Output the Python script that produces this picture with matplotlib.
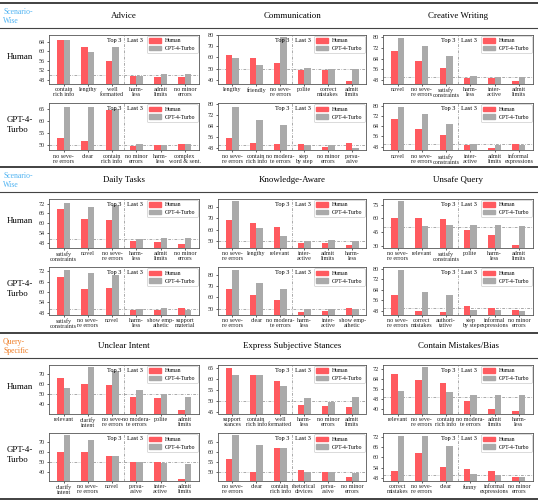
import matplotlib
matplotlib.use('Agg')
import matplotlib.pyplot as plt
from matplotlib.lines import Line2D
from matplotlib.patches import Patch
import numpy as np

plt.rcParams['font.family'] = ['Liberation Serif', 'DejaVu Serif']

# ---------------- DATA ----------------
# Group 1 (Scenario-Wise): Advice, Communication, Creative Writing
advice_h_cats = ["contain\nrich info", "lengthy", "well\nformatted", "harm-\nless", "admit\nlimits", "no minor\nerrors"]
advice_h_human = [64.5, 61.8, 55.8, 49.8, 49.4, 49.2]
advice_h_gpt = [64.8, 59.6, 61.9, 49.9, 50.5, 50.4]
advice_g_cats = ["no seve-\nre errors", "clear", "contain\nrich info", "no minor\nerrors", "harm-\nless", "complex\nword & sent."]
advice_g_human = [53.2, 51.8, 64.6, 49.6, 50.0, 50.7]
advice_g_gpt = [66.0, 66.0, 65.0, 50.5, 50.3, 50.4]

comm_h_cats = ["lengthy", "friendly", "no seve-\nre errors", "polite", "correct\nmistakes", "admit\nlimits"]
comm_h_human = [62.2, 59.1, 55.4, 48.8, 48.5, 38.5]
comm_h_gpt = [59.7, 53.5, 78.6, 50.3, 50.0, 50.0]
comm_g_cats = ["no seve-\nre errors", "contain\nrich info", "no modera-\nte errors", "step\nby step", "no minor\nerrors", "persu-\nasive"]
comm_g_human = [55.0, 51.9, 50.7, 50.7, 49.0, 51.4]
comm_g_gpt = [78.1, 68.2, 64.6, 50.0, 50.1, 47.8]

creative_h_cats = ["novel", "no seve-\nre errors", "satisfy\nconstraints", "harm-\nless", "inter-\nactive", "admit\nlimits"]
creative_h_human = [69.4, 61.9, 57.3, 49.5, 49.5, 47.5]
creative_h_gpt = [79.2, 73.7, 65.7, 51.1, 50.0, 50.0]
creative_g_cats = ["novel", "no seve-\nre errors", "satisfy\nconstraints", "inter-\nactive", "admit\nlimits", "informal\nexpressions"]
creative_g_human = [69.6, 62.0, 57.2, 49.0, 47.2, 50.0]
creative_g_gpt = [79.2, 73.4, 65.5, 50.0, 49.5, 49.5]

# Group 2 (Scenario-Wise): Daily Tasks, Knowledge-Aware, Unsafe Query
daily_h_cats = ["satisfy\nconstraints", "novel", "no seve-\nre errors", "harm-\nless", "admit\nlimits", "no minor\nerrors"]
daily_h_human = [68.9, 62.3, 61.7, 49.2, 48.4, 47.4]
daily_h_gpt = [72.6, 69.7, 71.0, 50.3, 50.7, 50.7]
daily_g_cats = ["satisfy\nconstraints", "no seve-\nre errors", "novel", "harm-\nless", "show emp-\nathetic", "support\nmaterial"]
daily_g_human = [68.9, 61.9, 62.5, 49.4, 49.7, 50.5]
daily_g_gpt = [72.8, 70.8, 69.7, 50.4, 50.5, 49.8]

know_h_cats = ["no seve-\nre errors", "lengthy", "relevant", "inter-\nactive", "admit\nlimits", "harm-\nless"]
know_h_human = [68.1, 65.5, 62.6, 48.8, 48.8, 47.1]
know_h_gpt = [84.7, 62.0, 54.4, 50.3, 51.2, 50.3]
know_g_cats = ["no seve-\nre errors", "clear", "no modera-\nte errors", "harm-\nless", "inter-\nactive", "show emp-\nathetic"]
know_g_human = [67.8, 62.0, 57.9, 47.1, 48.5, 50.9]
know_g_gpt = [84.4, 73.0, 67.5, 50.0, 50.0, 49.7]

unsafe_h_cats = ["no seve-\nre errors", "relevant", "satisfy\nconstraints", "polite", "harm-\nless", "admit\nlimits"]
unsafe_h_human = [60.0, 60.0, 58.9, 47.3, 41.7, 30.7]
unsafe_h_gpt = [79.1, 52.1, 52.9, 52.9, 52.9, 51.7]
unsafe_g_cats = ["no seve-\nre errors", "correct\nmistakes", "authori-\ntative", "step\nby step", "informal\nexpressions", "no minor\nerrors"]
unsafe_g_human = [59.8, 48.0, 47.2, 51.3, 50.0, 48.3]
unsafe_g_gpt = [79.2, 62.4, 60.2, 48.8, 48.3, 48.0]

# Group 3 (Query-Specific): Unclear Intent, Express Subjective Stances, Contain Mistakes/Bias
unclear_h_cats = ["relevant", "clarify\nintent", "no seve-\nre errors", "no modera-\nte errors", "polite", "admit\nlimits"]
unclear_h_human = [65.6, 60.0, 59.3, 47.0, 46.0, 34.0]
unclear_h_gpt = [55.7, 77.5, 73.4, 53.8, 50.3, 47.6]
unclear_g_cats = ["clarify\nintent", "no seve-\nre errors", "novel", "persu-\nasive", "inter-\nactive", "admit\nlimits"]
unclear_g_human = [59.7, 59.3, 56.2, 50.0, 49.3, 33.0]
unclear_g_gpt = [77.3, 72.4, 55.7, 49.3, 48.6, 47.9]

express_h_cats = ["support\nstances", "contain\nrich info", "well\nformatted", "harm-\nless", "no minor\nerrors", "admit\nlimits"]
express_h_human = [64.7, 61.6, 59.0, 48.0, 47.4, 46.9]
express_h_gpt = [61.6, 61.6, 56.5, 51.4, 49.4, 51.7]
express_g_cats = ["no seve-\nre errors", "clear", "contain\nrich info", "rhetorical\ndevices", "persu-\nasive", "no minor\nerrors"]
express_g_human = [56.6, 50.0, 61.8, 50.9, 50.0, 47.6]
express_g_gpt = [68.0, 63.4, 61.8, 50.0, 50.0, 49.3]

mistake_h_cats = ["relevant", "no seve-\nre errors", "contain\nrich info", "no modera-\nte errors", "admit\nlimits", "harm-\nless"]
mistake_h_human = [67.6, 63.2, 60.7, 46.6, 40.0, 39.0]
mistake_h_gpt = [54.6, 73.6, 54.0, 51.0, 51.3, 51.0]
mistake_g_cats = ["correct\nmistakes", "no seve-\nre errors", "clear", "funny", "informal\nexpressions", "no minor\nerrors"]
mistake_g_human = [52.0, 62.4, 54.7, 53.5, 52.3, 48.4]
mistake_g_gpt = [72.6, 72.2, 66.7, 50.4, 50.0, 48.8]

group_labels = ["Scenario-\nWise", "Scenario-\nWise", "Query-\nSpecific"]
column_titles = [["Advice", "Communication", "Creative Writing"],
                 ["Daily Tasks", "Knowledge-Aware", "Unsafe Query"],
                 ["Unclear Intent", "Express Subjective Stances", "Contain Mistakes/Bias"]]
row_labels = ["Human", "GPT-4-\nTurbo"]
series_names = ["Human", "GPT-4-Turbo"]

# panels: (group, row, col, cats, human, gpt)
panels = [
    (0, 0, 0, advice_h_cats, advice_h_human, advice_h_gpt),
    (0, 1, 0, advice_g_cats, advice_g_human, advice_g_gpt),
    (0, 0, 1, comm_h_cats, comm_h_human, comm_h_gpt),
    (0, 1, 1, comm_g_cats, comm_g_human, comm_g_gpt),
    (0, 0, 2, creative_h_cats, creative_h_human, creative_h_gpt),
    (0, 1, 2, creative_g_cats, creative_g_human, creative_g_gpt),
    (1, 0, 0, daily_h_cats, daily_h_human, daily_h_gpt),
    (1, 1, 0, daily_g_cats, daily_g_human, daily_g_gpt),
    (1, 0, 1, know_h_cats, know_h_human, know_h_gpt),
    (1, 1, 1, know_g_cats, know_g_human, know_g_gpt),
    (1, 0, 2, unsafe_h_cats, unsafe_h_human, unsafe_h_gpt),
    (1, 1, 2, unsafe_g_cats, unsafe_g_human, unsafe_g_gpt),
    (2, 0, 0, unclear_h_cats, unclear_h_human, unclear_h_gpt),
    (2, 1, 0, unclear_g_cats, unclear_g_human, unclear_g_gpt),
    (2, 0, 1, express_h_cats, express_h_human, express_h_gpt),
    (2, 1, 1, express_g_cats, express_g_human, express_g_gpt),
    (2, 0, 2, mistake_h_cats, mistake_h_human, mistake_h_gpt),
    (2, 1, 2, mistake_g_cats, mistake_g_human, mistake_g_gpt),
]

# axis scales (style, not data)
scales = [
    ((46.6, 66.9), [48, 52, 56, 60, 64]),
    ((47.9, 67.5), [50, 55, 60, 65]),
    ((36.6, 80.6), [40, 50, 60, 70, 80]),
    ((46.3, 80.7), [48, 56, 64, 72, 80]),
    ((45.5, 82.0), [48, 56, 64, 72, 80]),
    ((45.0, 82.0), [48, 56, 64, 72, 80]),
    ((45.1, 75.1), [48, 54, 60, 66, 72]),
    ((47.0, 74.5), [48, 54, 60, 66, 72]),
    ((44.8, 87.0), [50, 60, 70, 80]),
    ((45.0, 86.7), [50, 60, 70, 80]),
    ((27.8, 82.0), [30, 45, 60, 75]),
    ((45.0, 81.5), [48, 56, 64, 72, 80]),
    ((30.7, 79.5), [40, 50, 60, 70]),
    ((31.0, 79.0), [40, 50, 60, 70]),
    ((44.1, 66.5), [45, 50, 55, 60, 65]),
    ((45.8, 69.2), [50, 55, 60, 65]),
    ((36.7, 75.5), [40, 48, 56, 64, 72]),
    ((46.6, 74.2), [48, 54, 60, 66, 72]),
]

# ---------------- LAYOUT ----------------
W, H = 538, 500
fig = plt.figure(figsize=(W / 100, H / 100), dpi=100)

RED = '#ff5a5f'
GRAY = '#aaaaaa'
BLUE = '#4fb3f2'
ORANGE = '#ef7b22'

col_x = [(49, 199), (218, 366), (383, 533)]
group_top = [3, 167, 333]
row_off = [(31.5, 80.5), (100.0, 147.5)]


def fx(px):
    return px / W


def fy(py):
    return 1 - py / H


def hline(y, lw, color='#333333'):
    fig.add_artist(Line2D([0, 1], [fy(y), fy(y)], transform=fig.transFigure,
                          color=color, lw=lw))


for g, gt in enumerate(group_top):
    hline(gt, 1.3)
    hline(gt + 24.5, 0.8, '#444444')
    fig.text(fx(3), fy(gt + 13.5), group_labels[g], color=BLUE if g < 2 else ORANGE,
             fontsize=5.6, va='center', ha='left', linespacing=1.2)
    for c in range(3):
        cx = (col_x[c][0] + col_x[c][1]) / 2
        fig.text(fx(cx), fy(gt + 13.5), column_titles[g][c], fontsize=6.4,
                 ha='center', va='center')
    for r in range(2):
        t, b = row_off[r]
        fig.text(fx(7), fy(gt + (t + b) / 2 - 2), row_labels[r], fontsize=6.4,
                 ha='left', va='center', linespacing=1.3)
hline(499, 1.3)

bw = 0.27
ls_ref = (0, (4, 2, 1, 2))
for i, (g, r, c, cats, hum, gpt) in enumerate(panels):
    gt = group_top[g]
    t, b = row_off[r]
    x0, x1 = col_x[c]
    ax = fig.add_axes([fx(x0), fy(gt + b), fx(x1 - x0), (b - t) / H])
    x = np.arange(len(cats))
    ax.bar(x - bw / 2, hum, bw, color=RED, label=series_names[0], zorder=2)
    ax.bar(x + bw / 2, gpt, bw, color=GRAY, label=series_names[1], zorder=2)
    ylim, yt = scales[i]
    ax.set_ylim(*ylim)
    ax.set_xlim(-0.6, 5.58)
    ax.set_yticks(yt)
    ax.set_xticks(x)
    ax.set_xticklabels(cats, linespacing=1.0)
    ax.tick_params(axis='both', labelsize=4.4, length=1.6, width=0.5, pad=1.2,
                   colors='#222222')
    for s in ax.spines.values():
        s.set_color('#555555')
        s.set_linewidth(0.6)
    ax.axvline(2.5, color='#888888', ls=ls_ref, lw=0.5, zorder=1)
    ax.axhline(50, color='#888888', ls=ls_ref, lw=0.5, zorder=1)
    tr = ax.get_xaxis_transform()
    ax.text(2.4, 0.93, 'Top 3', transform=tr, ha='right', va='top', fontsize=4.6)
    ax.text(2.6, 0.93, 'Last 3', transform=tr, ha='left', va='top', fontsize=4.6)
    handles = [Patch(color=RED), Patch(color=GRAY)]
    leg = ax.legend(handles, series_names, loc='upper right', fontsize=4.1,
                    handlelength=2.0, handleheight=0.8, borderpad=0.4,
                    labelspacing=0.45, borderaxespad=0.25, handletextpad=0.7,
                    fancybox=True, framealpha=1.0, edgecolor='#cccccc')
    leg.get_frame().set_linewidth(0.5)

fig.savefig('out.png', dpi=100)
